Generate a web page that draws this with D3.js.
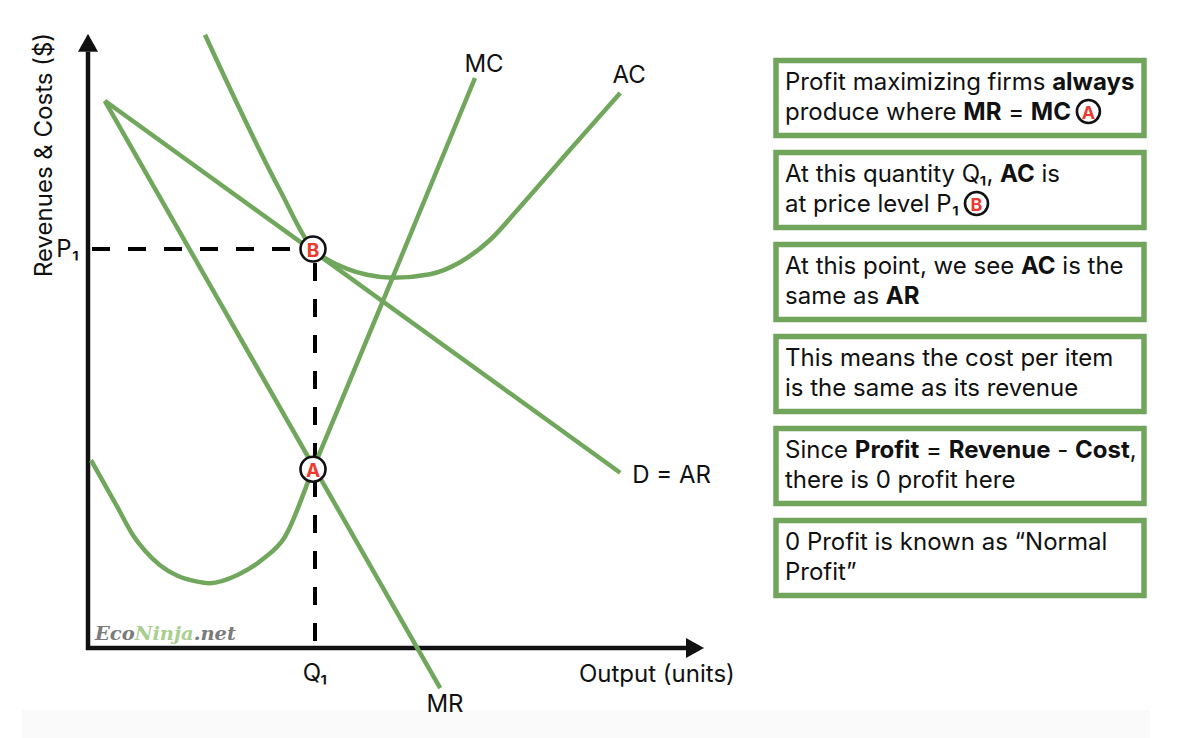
<!DOCTYPE html>
<html lang="en">
<head>
	<meta charset="UTF-8">
	<title>Normal Profit in Monopolistic Competition</title>
	<script src="https://cdn.jsdelivr.net/npm/d3@7/dist/d3.min.js"></script>
	<style>
		body { margin: 0; background: #fff; }
		svg { display: block; font-family: Inter, "Noto Sans", sans-serif; }
		.curve { fill: none; stroke: #71a75c; stroke-width: 4.5; }
		.axis-line { stroke: #111; stroke-width: 4.5; }
		.guide { stroke: #000; stroke-width: 4; stroke-dasharray: 18 18; }
		.lbl { font-size: 24px; fill: #111; }
		.note rect { fill: #fff; stroke: #72a55c; stroke-width: 5.5; }
		.note text { font-size: 24px; fill: #111; }
		.badge circle { fill: #fff; stroke: #111; stroke-width: 2.6; }
		.badge text { fill: #ec3a2e; font-weight: 700; text-anchor: middle; dominant-baseline: central; }
		.mark { font-family: "DejaVu Serif", serif; font-weight: 700; font-style: italic; font-size: 19px; }
	</style>
</head>
<body>
	<div id="container"></div>
	<script>
		// curve points (output, revenue / cost)
		var acCurve = [[1.95,10.22],[3.20,7.63],[3.75,6.65],[3.98,6.48],[4.32,6.32],[4.65,6.22],[5.08,6.17],
			[5.70,6.23],[6.20,6.43],[6.70,6.80],[7.20,7.35],[8.03,8.30],[8.87,9.25]];
		var mcCurve = [[0.05,3.13],[0.50,2.33],[0.75,1.88],[0.95,1.62],[1.20,1.38],[1.50,1.20],[1.80,1.11],
			[2.03,1.08],[2.50,1.22],[2.90,1.47],[3.28,1.85],[3.75,2.98],[5.08,6.18],[6.45,9.50]];
		var arLine = [[0.28,9.12],[8.87,2.92]];
		var mrLine = [[0.28,9.12],[5.87,-0.67]];

		var q1 = 3.75, p1 = 6.65, mcAtQ1 = 2.98;
		var axisEnd = { q: 10.25, v: 10.22 };

		// curve names and where their label sits
		var curveLabels = [
			{ text: "MC", q: 6.6, v: 9.6, anchor: "middle" },
			{ text: "AC", q: 9.02, v: 9.42, anchor: "middle" },
			{ text: "D = AR", q: 9.07, v: 2.75, anchor: "start" },
			{ text: "MR", q: 5.95, v: -1.07, anchor: "middle" }
		];

		var notes = [
			["Profit maximizing firms **always**", "produce where **MR** = **MC** (A)"],
			["At this quantity Q\u2081, **AC** is", "at price level P\u2081 (B)"],
			["At this point, we see **AC** is the", "same as **AR**"],
			["This means the cost per item", "is the same as its revenue"],
			["Since **Profit** = **Revenue** - **Cost**,", "there is 0 profit here"],
			["0 Profit is known as \u201cNormal", "Profit\u201d"]
		];

		var width = 1202, height = 738;
		var svg = d3.select("#container").append("svg")
			.attr("width", width)
			.attr("height", height);

		var x = d3.scaleLinear().domain([0, 10]).range([88, 688]);
		var y = d3.scaleLinear().domain([0, 10]).range([648, 48]);

		// faint band along the bottom
		svg.append("rect")
			.attr("x", 22).attr("y", 710).attr("width", 1128).attr("height", 28)
			.attr("fill", "#fafafa");

		svg.append("defs").append("marker")
				.attr("id", "arrow")
				.attr("viewBox", "0 0 18 20")
				.attr("refX", 0).attr("refY", 10)
				.attr("markerWidth", 18).attr("markerHeight", 20)
				.attr("markerUnits", "userSpaceOnUse")
				.attr("orient", "auto")
			.append("path")
				.attr("d", "M0,0L18,10L0,20Z")
				.attr("fill", "#111");

		// axes
		svg.append("line").attr("class", "axis-line")
			.attr("x1", x(0)).attr("y1", y(0) + 2)
			.attr("x2", x(0)).attr("y2", y(axisEnd.v) + 17)
			.attr("marker-end", "url(#arrow)");
		svg.append("line").attr("class", "axis-line")
			.attr("x1", x(0) - 2).attr("y1", y(0))
			.attr("x2", x(axisEnd.q) - 17).attr("y2", y(0))
			.attr("marker-end", "url(#arrow)");

		// guides to P1 and Q1
		svg.append("line").attr("class", "guide")
			.attr("x1", x(0) + 4).attr("y1", y(p1))
			.attr("x2", x(q1)).attr("y2", y(p1));
		svg.append("line").attr("class", "guide")
			.attr("x1", x(q1) + 2).attr("y1", y(p1) + 14)
			.attr("x2", x(q1) + 2).attr("y2", y(0));

		var line = d3.line()
			.x(function(d) { return x(d[0]); })
			.y(function(d) { return y(d[1]); })
			.curve(d3.curveMonotoneX);

		svg.selectAll("path.curve")
			.data([arLine, mrLine, mcCurve, acCurve])
			.enter().append("path")
				.attr("class", "curve")
				.attr("d", line);

		svg.selectAll("text.curve-label")
			.data(curveLabels)
			.enter().append("text")
				.attr("class", "lbl curve-label")
				.attr("x", function(d) { return x(d.q); })
				.attr("y", function(d) { return y(d.v); })
				.attr("text-anchor", function(d) { return d.anchor; })
				.text(function(d) { return d.text; });

		svg.append("text").attr("class", "lbl")
			.attr("x", x(10.78)).attr("y", y(0) + 34)
			.attr("text-anchor", "end")
			.text("Output (units)");

		svg.append("text").attr("class", "lbl")
			.attr("x", x(q1) + 2).attr("y", y(0) + 33)
			.attr("text-anchor", "middle")
			.text("Q\u2081");

		svg.append("text").attr("class", "lbl")
			.attr("x", x(0) - 9).attr("y", y(p1) + 8)
			.attr("text-anchor", "end")
			.text("P\u2081");

		svg.append("text").attr("class", "lbl")
			.attr("transform", "translate(52," + 155 + ") rotate(-90)")
			.attr("text-anchor", "middle")
			.text("Revenues & Costs ($)");

		// watermark
		var mark = svg.append("text").attr("class", "mark")
			.attr("x", 95).attr("y", 640);
		mark.append("tspan").attr("fill", "#7b7b7b").text("Eco");
		mark.append("tspan").attr("fill", "#a9cf8f").text("Ninja");
		mark.append("tspan").attr("fill", "#7b7b7b").text(".net");
		mark.attr("textLength", 141).attr("lengthAdjust", "spacingAndGlyphs");

		function badge(parent, cx, cy, letter, r, size) {
			var g = parent.append("g").attr("class", "badge")
				.attr("transform", "translate(" + cx + "," + cy + ")");
			g.append("circle").attr("r", r);
			g.append("text").attr("y", 1).style("font-size", size + "px").text(letter);
		}

		badge(svg, x(q1), y(p1), "B", 12.5, 19);
		badge(svg, x(q1), y(mcAtQ1), "A", 12.5, 19);

		// explanatory boxes on the right
		var boxX = 776, boxW = 368, boxH = 75, boxTop = 60.5, boxStep = 92;

		notes.forEach(function(lines, i) {
			var top = boxTop + i * boxStep;
			var g = svg.append("g").attr("class", "note");
			g.append("rect")
				.attr("x", boxX).attr("y", top)
				.attr("width", boxW).attr("height", boxH);

			lines.forEach(function(str, j) {
				var t = g.append("text")
					.attr("x", boxX + 9)
					.attr("y", top + 29 + j * 30);
				var letter = null;
				str.split(/(\*\*[^*]+\*\*|\([AB]\))/).forEach(function(part) {
					if (!part) return;
					if (/^\([AB]\)$/.test(part)) { letter = part[1]; return; }
					var bold = /^\*\*/.test(part);
					t.append("tspan")
						.attr("font-weight", bold ? 700 : 400)
						.text(bold ? part.slice(2, -2).trim() : part.trim() === "" ? "" : part);
				});
				if (letter) {
					var len = t.node().getComputedTextLength();
					badge(g, boxX + 9 + len + 6 + 11.5, top + 21 + j * 30, letter, 11.5, 18);
				}
			});
		});
	</script>
</body>
</html>
